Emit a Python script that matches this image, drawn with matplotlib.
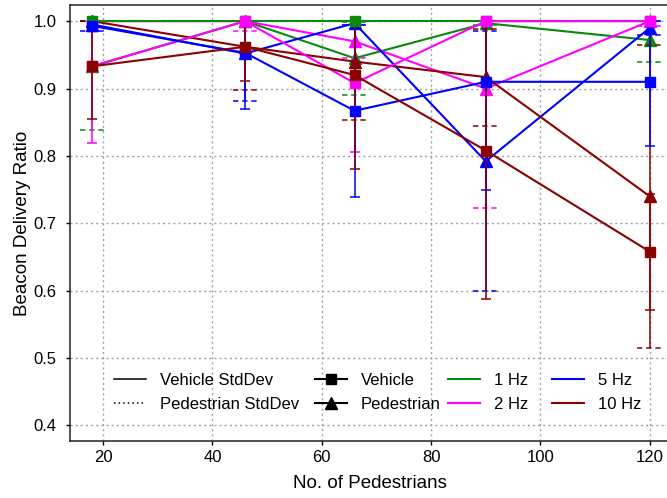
import matplotlib
matplotlib.use('Agg')
import matplotlib.pyplot as plt
from matplotlib.lines import Line2D

plt.rcParams['font.family'] = ['Liberation Sans', 'DejaVu Sans']

# number of pedestrians
pedestrians = [18, 46, 66, 90, 120]
rates = ['1 Hz', '2 Hz', '5 Hz', '10 Hz']
colors = ['#0a8a0a', '#ff00ff', '#0000ff', '#8b0000']

# vehicle beacon delivery ratio + std dev
veh_1hz = [1.0, 1.0, 1.0, 1.0, 1.0]
veh_1hz_sd = [0.0, 0.0, 0.0, 0.0, 0.0]
veh_2hz = [0.933, 1.0, 0.908, 1.0, 1.0]
veh_2hz_sd = [0.114, 0.0, 0.102, 0.0, 0.0]
veh_5hz = [0.993, 0.953, 0.867, 0.910, 0.910]
veh_5hz_sd = [0.006, 0.083, 0.128, 0.160, 0.096]
veh_10hz = [0.933, 0.962, 0.920, 0.808, 0.658]
veh_10hz_sd = [0.078, 0.051, 0.139, 0.220, 0.086]

# pedestrian beacon delivery ratio + std dev
ped_1hz = [0.933, 1.0, 0.945, 0.997, 0.972]
ped_1hz_sd = [0.095, 0.0, 0.054, 0.003, 0.032]
ped_2hz = [1.0, 1.0, 0.970, 0.900, 1.0]
ped_2hz_sd = [0.0, 0.014, 0.025, 0.177, 0.007]
ped_5hz = [0.995, 0.952, 0.997, 0.792, 0.990]
ped_5hz_sd = [0.009, 0.071, 0.003, 0.193, 0.011]
ped_10hz = [1.0, 0.962, 0.940, 0.917, 0.740]
ped_10hz_sd = [0.0, 0.064, 0.087, 0.072, 0.225]

veh = [veh_1hz, veh_2hz, veh_5hz, veh_10hz]
veh_sd = [veh_1hz_sd, veh_2hz_sd, veh_5hz_sd, veh_10hz_sd]
ped = [ped_1hz, ped_2hz, ped_5hz, ped_10hz]
ped_sd = [ped_1hz_sd, ped_2hz_sd, ped_5hz_sd, ped_10hz_sd]


def err_limits(vals, sds):
    # ratio can't go over 1, so the upper bar stops there
    lo = [v - s for v, s in zip(vals, sds)]
    hi = [min(1.0, v + s) for v, s in zip(vals, sds)]
    return lo, hi


fig = plt.figure(figsize=(6.67, 4.98), dpi=100)
ax = fig.add_axes([0.1045, 0.1145, 0.9, 0.8755])

dashcap = (0, (3.5, 2.5))
# pedestrians first (dashed caps, triangles)
for i in range(len(rates)):
    c = colors[i]
    lo, hi = err_limits(ped[i], ped_sd[i])
    ax.vlines(pedestrians, lo, hi, colors=c, lw=1.1)
    xl = [x - 2.3 for x in pedestrians]
    xr = [x + 2.3 for x in pedestrians]
    ax.hlines(lo, xl, xr, colors=c, lw=1.1, linestyles=[dashcap])
    ax.hlines(hi, xl, xr, colors=c, lw=1.1, linestyles=[dashcap])
    ax.plot(pedestrians, ped[i], color=c, lw=1.5, marker='^', ms=8.5)

# then vehicles (solid caps, squares)
for i in range(len(rates)):
    c = colors[i]
    lo, hi = err_limits(veh[i], veh_sd[i])
    yerr = [[v - l for v, l in zip(veh[i], lo)], [h - v for v, h in zip(veh[i], hi)]]
    ax.errorbar(pedestrians, veh[i], yerr=yerr, color=c, lw=1.5,
                marker='s', ms=7.5, capsize=3.5, elinewidth=1.1, capthick=1.1)

ax.set_xlim(13.9, 123.7)
ax.set_ylim(0.377, 1.024)
ax.set_xticks([20, 40, 60, 80, 100, 120])
ax.set_yticks([0.4, 0.5, 0.6, 0.7, 0.8, 0.9, 1.0])
ax.set_yticklabels(['0.4', '0.5', '0.6', '0.7', '0.8', '0.9', '1.0'])
ax.grid(True, color='#a0a0a0', lw=1, linestyle=(0, (1.5, 2.2)))
ax.set_axisbelow(True)
ax.spines['right'].set_visible(False)
for s in ['left', 'bottom', 'top']:
    ax.spines[s].set_linewidth(1.1)
    ax.spines[s].set_color('#222222')
ax.tick_params(axis='x', direction='out', length=3, width=1, labelsize=12, pad=3.5)
ax.tick_params(axis='y', direction='out', length=3, width=1, labelsize=12, pad=6.5)

ax.set_xlabel('No. of Pedestrians', fontsize=13.5, labelpad=7.5)
ax.set_ylabel('Beacon Delivery Ratio', fontsize=13.5, labelpad=2)

# key: style entries on the left, rate colours on the right
style_handles = [
    Line2D([], [], color='black', lw=1.1),
    Line2D([], [], color='black', lw=1.1, linestyle=(0, (1, 2))),
    Line2D([], [], color='black', lw=1.5, marker='s', ms=7),
    Line2D([], [], color='black', lw=1.5, marker='^', ms=8),
]
style_labels = ['Vehicle StdDev', 'Pedestrian StdDev', 'Vehicle', 'Pedestrian']
rate_handles = [Line2D([], [], color=c, lw=1.5) for c in colors]

leg_kw = dict(ncol=2, loc='center left', frameon=False, fontsize=12,
              handlelength=1.92, handletextpad=0.84, labelspacing=0.52,
              borderpad=0, borderaxespad=0)
leg1 = ax.legend(style_handles, style_labels, bbox_to_anchor=(0.0738, 0.1110),
                 columnspacing=0.95, **leg_kw)
ax.add_artist(leg1)
ax.legend(rate_handles, rates, bbox_to_anchor=(0.630, 0.1110),
          columnspacing=1.45, **leg_kw)

fig.savefig('out.png', dpi=100)
